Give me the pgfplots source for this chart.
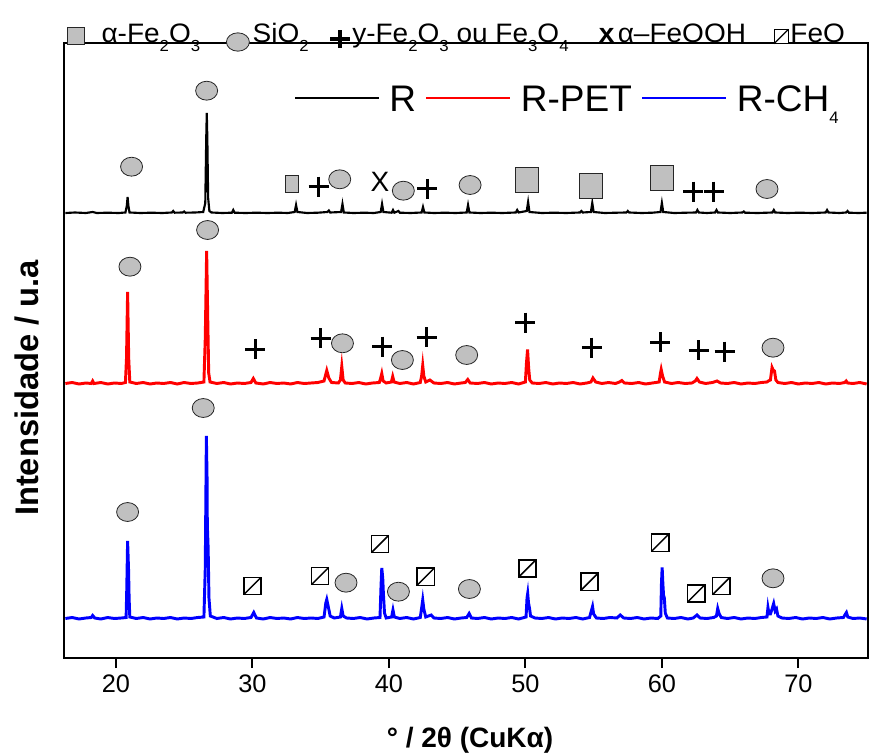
\documentclass[border=0pt]{standalone}
\usepackage{fontspec}
\setmainfont{Liberation Sans}
\usepackage{graphicx}
\usepackage{pgfplots}
\pgfplotsset{compat=1.18}
\definecolor{mgray}{RGB}{192,192,192}
\pgfdeclareplotmark{feo}{%
 \pgfpathrectangle{\pgfpoint{-\pgfplotmarksize}{-\pgfplotmarksize}}{\pgfpoint{2\pgfplotmarksize}{2\pgfplotmarksize}}%
 \pgfusepathqfillstroke
 \pgfpathmoveto{\pgfpoint{-\pgfplotmarksize}{-\pgfplotmarksize}}%
 \pgfpathlineto{\pgfpoint{\pgfplotmarksize}{\pgfplotmarksize}}%
 \pgfusepathqstroke}
\newcommand{\sub}[1]{\raisebox{-7pt}{\fontsize{12}{12}\selectfont #1}}
\newcommand{\hdr}[1]{\scalebox{1.05}[1]{\fontsize{20}{20}\selectfont #1}}
\begin{document}
\begin{tikzpicture}
\begin{axis}[
 name=ax,
 scale only axis, width=603pt, height=461.25pt,
 xmin=16.2, xmax=75.1, ymin=0, ymax=615,
 axis line style={line width=1.5pt},
 xtick={20,30,40,50,60,70}, ytick=\empty,
 xtick pos=bottom, tick align=outside,
 major tick length=7.5pt, tick style={line width=1.5pt, black},
 /pgf/number format/assume math mode=true,
 xticklabel style={font=\fontsize{19}{19}\selectfont, yshift=-1.5pt},
 clip=false,
 xlabel={° / 2θ (CuKα)},
 xlabel style={font=\bfseries\fontsize{21}{21}\selectfont, at={(axis description cs:0.505,0)}, anchor=base, yshift=-66.75pt},
 ylabel={Intensidade / u.a},
 ylabel style={font=\bfseries\fontsize{24.5}{24.5}\selectfont, at={(axis description cs:-0.0323,0.439)}, anchor=base, rotate=0},
 legend style={draw=none, fill=none, at={(axis cs:32.38,560)}, anchor=west, legend columns=3,
   font=\fontsize{27.75}{27.75}\selectfont, inner sep=0pt, column sep=0pt,
   nodes={inner sep=0pt, text height=20pt, text depth=0pt}},
 legend cell align=left,
 legend image code/.code={\draw[#1,line width=2.2pt] (6.75pt,0pt) -- (69.75pt,0pt); \path (0pt,0pt) (76.5pt,0pt);},
]
% R (black)
\addplot[black, line width=1.6pt] coordinates {
(16.3,445)(17.0,445.5)(17.8,445)(18.3,446)(18.6,445)(19.4,445.3)(20.2,445)(20.7,445.5)(20.8,452)(20.86,461)(20.92,452)(21.0,445.5)(21.8,445)(22.6,445.3)(23.4,445)(24.1,445.5)(24.2,447)(24.3,445.3)(24.9,445.5)(25.0,446.5)(25.1,445.3)(25.8,445.5)(26.4,446)(26.55,455)(26.62,520)(26.66,545)(26.7,520)(26.76,460)(26.85,447)(27.0,445.5)(27.8,445)(28.5,445.3)(28.6,448)(28.7,445.3)(29.5,445)(30.3,445.3)(31.1,445)(31.9,445.3)(32.6,445)(33.1,446)(33.2,453)(33.3,446)(34.0,445)(34.8,445.3)(35.5,446)(35.6,447.5)(35.7,445.5)(36.5,446)(36.6,454)(36.7,445.5)(37.4,445)(38.2,445.3)(38.9,445)(39.4,446)(39.5,454)(39.6,446)(40.2,445.3)(40.3,448)(40.4,445.3)(40.7,447)(40.8,445.3)(41.6,445)(42.4,445.5)(42.5,451)(42.6,445.5)(43.3,445)(44.1,445.3)(44.9,445)(45.7,445.5)(45.8,453)(45.9,445.5)(46.7,445)(47.5,445.3)(48.3,445)(49.3,445.5)(49.4,448)(49.5,445.5)(50.1,447)(50.2,456)(50.3,446)(51.2,445)(52.1,445.3)(53.0,445)(54.0,445.5)(54.1,447)(54.2,445.5)(54.8,446)(54.9,455)(55.0,446)(55.8,445)(56.7,445.3)(57.4,445.5)(57.5,447)(57.6,445.5)(58.5,445)(59.3,445.3)(59.9,446)(60.0,455)(60.1,446)(60.9,445)(61.8,445.3)(62.5,445.5)(62.6,448)(62.7,445.5)(63.3,445)(63.9,445.5)(64.0,448)(64.1,445.5)(65.0,445)(65.9,445.5)(66.0,446.5)(66.1,445.3)(67.0,445)(67.7,445.3)(68.1,445.5)(68.2,448)(68.3,445.5)(69.2,445)(70.1,445.3)(71.0,445)(72.0,445.5)(72.1,448)(72.2,445.5)(73.0,445)(73.5,445.5)(73.6,447)(73.7,445.3)(74.4,445)(75.0,445.3)
};
% R-PET (red)
\addplot[red, line width=2.2pt] coordinates {
(16.3,274.5)(16.8,275.5)(17.3,274)(17.8,275)(18.2,274.5)(18.3,277)(18.4,274.5)(18.9,275.5)(19.4,274)(19.9,275)(20.4,274.5)(20.7,275.5)(20.78,300)(20.86,366)(20.94,300)(21.02,276)(21.5,274.5)(22.0,275.5)(22.5,274)(23.0,275)(23.5,274.5)(24.0,275.5)(24.5,274)(25.0,275.5)(25.5,274.5)(26.0,275)(26.45,276)(26.55,320)(26.65,407)(26.73,340)(26.8,285)(26.9,276)(27.4,274.5)(27.9,275.5)(28.4,274)(28.9,275)(29.4,274.5)(29.9,275.5)(30.07,279.5)(30.25,275)(30.8,274)(31.3,275.5)(31.8,274.5)(32.3,275)(32.8,274)(33.3,275.5)(33.8,274.5)(34.3,275)(34.8,275.5)(35.25,277)(35.45,287.5)(35.6,280)(35.8,275.5)(36.3,275)(36.45,278)(36.55,291.5)(36.65,278)(36.8,275)(37.3,274.5)(37.8,275.5)(38.3,274)(38.8,275)(39.3,275.5)(39.4,280)(39.48,284.5)(39.58,277)(39.8,275)(40.18,276)(40.28,281.5)(40.38,276)(40.8,274.5)(41.3,275.5)(41.8,274)(42.3,275.5)(42.4,282)(42.48,292.5)(42.56,282)(42.7,276)(43.0,278)(43.3,275)(43.8,274.5)(44.3,275.5)(44.8,274)(45.3,275)(45.6,275.5)(45.78,278.5)(45.95,275)(46.5,274.5)(47.0,275.5)(47.5,274)(48.0,275)(48.5,274.5)(49.0,275.5)(49.5,274)(50.0,276)(50.08,295)(50.16,308.5)(50.24,290)(50.32,278)(50.5,275)(51.0,274.5)(51.5,275.5)(52.0,274)(52.5,275)(53.0,274.5)(53.5,275.5)(54.0,274)(54.5,275)(54.8,276)(54.95,280)(55.15,276)(55.6,274.5)(56.1,275.5)(56.6,274.5)(56.9,276)(57.07,277.5)(57.25,275)(57.8,274.5)(58.3,275.5)(58.8,274)(59.3,275)(59.8,276)(59.9,285)(59.95,288.5)(60.05,282)(60.2,276)(60.7,274.5)(61.2,275.5)(61.7,274.5)(62.2,275)(62.45,277)(62.57,279.5)(62.75,276)(63.2,274.5)(63.7,275.5)(64.04,277)(64.3,275)(64.8,274.5)(65.3,275.5)(65.8,274)(66.3,275)(66.8,274.5)(67.3,275.5)(67.7,276)(67.8,277)(67.95,278)(68.07,290.5)(68.15,288)(68.25,287)(68.35,278)(68.5,275.5)(69.0,274.5)(69.5,275.5)(70.0,274)(70.5,275)(71.0,274.5)(71.5,275.5)(72.0,274)(72.5,275)(73.0,274.5)(73.4,275.5)(73.5,277)(73.6,275)(74.0,274.5)(74.5,275.5)(75.0,274)
};
% R-CH4 (blue)
\addplot[blue, line width=2.2pt] coordinates {
(16.3,39.5)(16.8,40.5)(17.3,39)(17.8,40)(18.2,40.5)(18.3,42.5)(18.45,40)(18.9,39)(19.4,40.5)(19.9,39.5)(20.4,40)(20.75,40.5)(20.8,70)(20.86,117)(20.9,100)(20.93,88)(20.97,60)(21.02,41)(21.5,39.5)(22.0,40.5)(22.5,39)(23.0,40)(23.5,39.5)(24.0,40.5)(24.5,39)(25.0,40)(25.5,39.5)(26.0,40.5)(26.45,41)(26.55,90)(26.63,222)(26.68,180)(26.7,133)(26.76,110)(26.82,60)(26.92,42)(27.4,39.5)(27.9,40.5)(28.4,39)(28.9,40)(29.4,39.5)(29.9,40.5)(30.1,45.5)(30.3,40)(30.8,39)(31.3,40.5)(31.8,39.5)(32.3,40)(32.8,39)(33.3,40.5)(33.8,39.5)(34.3,40)(34.8,39.5)(35.25,41)(35.38,55)(35.45,58.5)(35.55,52)(35.7,42)(36.0,40)(36.45,41)(36.55,49.5)(36.65,42)(36.9,40)(37.4,39.5)(37.9,40.5)(38.4,39)(38.9,40)(39.35,40.5)(39.42,70)(39.48,90)(39.55,80)(39.6,64)(39.68,45)(39.8,40)(40.2,41)(40.3,48)(40.4,41)(40.8,39.5)(41.3,40.5)(41.8,39)(42.3,40.5)(42.4,50)(42.48,58)(42.56,49)(42.7,41)(43.1,43)(43.3,40)(43.8,39.5)(44.3,40.5)(44.8,39)(45.3,40)(45.7,40.5)(45.88,44.5)(46.05,40)(46.5,39.5)(47.0,40.5)(47.5,39)(48.0,40)(48.5,39.5)(49.0,40.5)(49.5,39)(50.05,41)(50.12,60)(50.17,64.5)(50.23,55)(50.3,50)(50.38,42)(50.7,40)(51.2,39.5)(51.7,40.5)(52.2,39)(52.7,40)(53.2,39.5)(53.7,40.5)(54.2,39)(54.7,40.5)(54.85,48)(54.92,51.5)(55.0,44)(55.2,40)(55.7,39.5)(56.2,40.5)(56.7,40)(56.95,43)(57.2,40)(57.7,39.5)(58.2,40.5)(58.7,39)(59.2,40)(59.7,39.5)(59.92,42)(59.97,75)(60.02,90.5)(60.07,75)(60.12,63)(60.18,60)(60.25,45)(60.4,40)(60.9,39.5)(61.4,40.5)(61.9,39)(62.3,40)(62.57,43)(62.8,40)(63.3,39.5)(63.8,40.5)(64.0,42)(64.09,49.5)(64.2,44)(64.35,40.5)(64.8,39.5)(65.3,40.5)(65.8,39)(66.3,40)(66.8,39.5)(67.3,40.5)(67.7,41)(67.77,50.5)(67.85,44)(67.95,44)(68.05,48)(68.19,54.5)(68.3,47)(68.4,49)(68.5,42)(68.8,40)(69.3,39.5)(69.8,40.5)(70.3,39)(70.8,40)(71.3,39.5)(71.8,40.5)(72.3,39)(72.8,40)(73.3,40.5)(73.45,44)(73.52,45.5)(73.62,41)(74.0,39.5)(74.5,40)(75.0,39)
};
\legend{R,R-PET,R-CH\raisebox{-9pt}{\fontsize{12.5}{12.5}\selectfont 4}}
% SiO2 circles
\addplot[forget plot, only marks, mark=*, mark size=8.25pt, mark options={fill=mgray, draw=black!85, line width=0.6pt, yscale=0.86}] coordinates {
(21.15,491.3)(26.65,567.3)(36.4,478.7)(41.06,467.3)(45.95,473)(67.7,469)
(21.03,391.3)(26.72,428)(36.6,314.7)(40.99,298)(45.7,303)(68.14,310.3)
(20.86,146)(26.4,250)(36.86,75.3)(40.7,66.3)(45.9,69)(68.14,79.7)
};
% alpha-Fe2O3 squares
\addplot[forget plot, only marks, mark=square*, mark size=6.4pt, mark options={fill=mgray, draw=black!85, line width=0.6pt, xscale=0.81}] coordinates {(32.9,473.7)};
\addplot[forget plot, only marks, mark=square*, mark size=8.8pt, mark options={fill=mgray, draw=black!85, line width=0.6pt, yscale=1.06}] coordinates {(50.1,478)(54.8,472.3)(60.0,480)};
% gamma-Fe2O3 / Fe3O4 crosses
\addplot[forget plot, only marks, mark=+, mark size=7.5pt, mark options={line width=2.25pt, draw=black}] coordinates {
(34.85,471.3)(42.8,469)(62.3,466.3)(63.8,466.3)
(30.2,309)(35.0,319.7)(39.5,311.3)(42.77,320.7)(49.99,335.3)(54.87,310.3)(59.88,315.7)(62.7,308)(64.6,306.3)
};
% alpha-FeOOH
\addplot[forget plot, only marks, mark=text, text mark={\fontsize{21}{21}\selectfont X}] coordinates {(39.35,476)};
% FeO boxes
\addplot[forget plot, only marks, mark=feo, mark size=6.4pt, mark options={fill=white, draw=black, line width=1.1pt}] coordinates {
(30.0,72)(34.96,82)(39.35,114)(42.7,81.3)(50.15,89.7)(54.7,76.3)(59.88,115.3)(62.52,64.7)(64.35,72)
};
% header key
\addplot[forget plot, only marks, mark=square*, mark size=6.4pt, mark options={fill=mgray, draw=black!85, line width=0.6pt}] coordinates {(17.05,622)};
\addplot[forget plot, only marks, mark=*, mark size=8.6pt, mark options={fill=mgray, draw=black!85, line width=0.6pt, yscale=0.8}] coordinates {(28.94,616)};
\addplot[forget plot, only marks, mark=+, mark size=7.2pt, mark options={line width=2.4pt, draw=black, yscale=0.9}] coordinates {(36.42,619)};
\addplot[forget plot, only marks, mark=feo, mark size=5.4pt, mark options={fill=white, draw=black, line width=0.9pt}] coordinates {(68.75,621.5)};
\node[anchor=base west, inner sep=0pt] at (axis cs:18.93,615.5) {\hdr{α-Fe\sub{2}O\sub{3}}};
\node[anchor=base west, inner sep=0pt] at (axis cs:30.0,615.5) {\hdr{SiO\sub{2}}};
\node[anchor=base west, inner sep=0pt] at (axis cs:37.3,615.5) {\hdr{y-Fe\sub{2}O\sub{3} ou Fe\sub{3}O\sub{4}}};
\node[anchor=base, inner sep=0pt] at (axis cs:55.95,615.5) {\hdr{\bfseries x}};
\node[anchor=base west, inner sep=0pt] at (axis cs:56.75,615.5) {\hdr{α–FeOOH}};
\node[anchor=base west, inner sep=0pt] at (axis cs:69.4,615.5) {\hdr{FeO}};
\end{axis}
\pgfresetboundingbox
\path[use as bounding box] ([xshift=-48pt,yshift=-72pt]ax.south west) rectangle ([xshift=3pt,yshift=32.25pt]ax.north east);
\end{tikzpicture}
\end{document}
